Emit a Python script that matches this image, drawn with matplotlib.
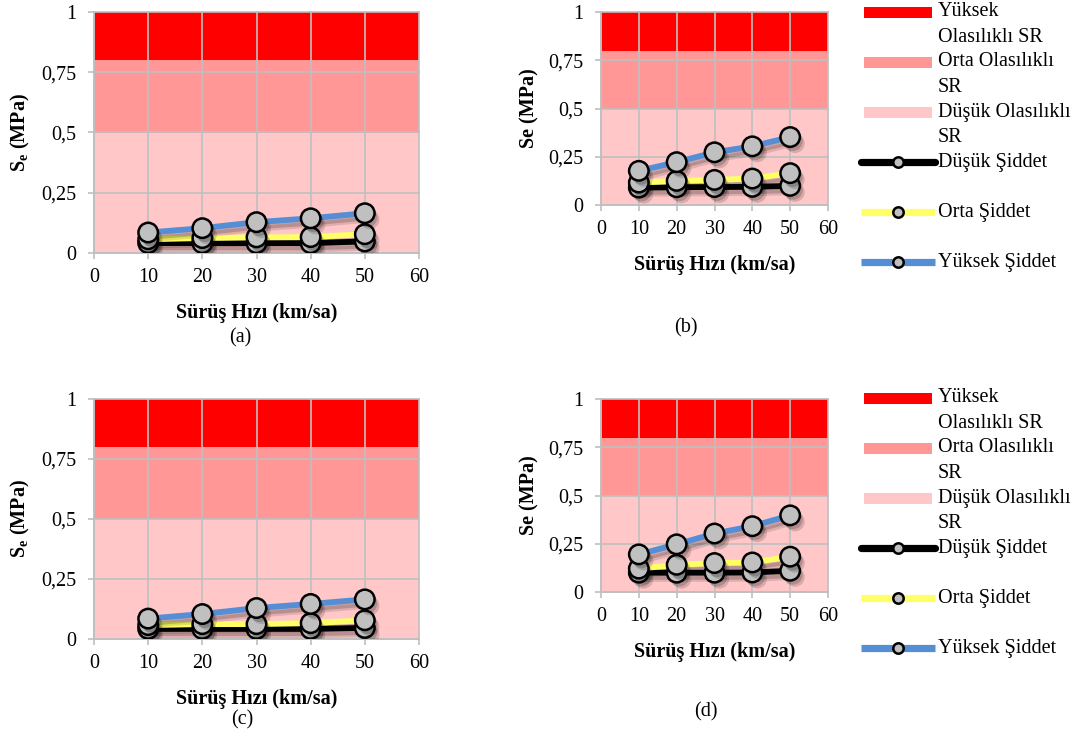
import matplotlib
matplotlib.use("Agg")
import matplotlib.pyplot as plt
from matplotlib import patheffects as pe
from matplotlib.lines import Line2D
from matplotlib.patches import Rectangle

plt.rcParams["font.family"] = "serif"
plt.rcParams["font.serif"] = ["Liberation Serif", "Times New Roman", "DejaVu Serif"]
plt.rcParams["mathtext.fontset"] = "custom"
plt.rcParams["mathtext.rm"] = "Liberation Serif"
plt.rcParams["mathtext.bf"] = "Liberation Serif:bold"

# ---------------------------------------------------------------------------
# Data
# ---------------------------------------------------------------------------

speed = [10, 20, 30, 40, 50]

a_low = [0.041, 0.041, 0.041, 0.041, 0.048]
a_mid = [0.057, 0.062, 0.065, 0.066, 0.078]
a_high = [0.085, 0.103, 0.128, 0.144, 0.165]

b_low = [0.090, 0.092, 0.093, 0.094, 0.099]
b_mid = [0.116, 0.125, 0.130, 0.137, 0.165]
b_high = [0.177, 0.222, 0.273, 0.304, 0.352]

c_low = [0.042, 0.042, 0.042, 0.042, 0.046]
c_mid = [0.058, 0.062, 0.062, 0.066, 0.078]
c_high = [0.085, 0.104, 0.129, 0.146, 0.165]

d_low = [0.100, 0.100, 0.100, 0.101, 0.110]
d_mid = [0.121, 0.141, 0.150, 0.153, 0.183]
d_high = [0.195, 0.247, 0.303, 0.341, 0.397]

# risk bands (stacked areas): lower, upper edges
band_lower = [0.0, 0.5, 0.8]
band_upper = [0.5, 0.8, 1.0]
band_names = ["Düşük Olasılıklı\nSR", "Orta Olasılıklı\nSR", "Yüksek\nOlasılıklı SR"]
band_colors = ["#FFC7C7", "#FF9797", "#FF0000"]

series_names = ["Düşük Şiddet", "Orta Şiddet", "Yüksek Şiddet"]
series_colors = ["#000000", "#FFFF66", "#558ED5"]

x_ticks = [0, 10, 20, 30, 40, 50, 60]
y_ticks = [0, 0.25, 0.5, 0.75, 1]
y_tick_labels = ["0", "0,25", "0,5", "0,75", "1"]

W, H = 1086, 740
FS = 14.5
GRID = "#BFBFBF"

fig = plt.figure(figsize=(W / 100, H / 100), dpi=100)


def px_axes(l, t, r, b):
    return fig.add_axes([l / W, 1 - b / H, (r - l) / W, (b - t) / H])


shadow_pts = [pe.SimplePatchShadow(offset=(2, -3), shadow_rgbFace="k", alpha=0.18),
              pe.SimplePatchShadow(offset=(3.5, -4.5), shadow_rgbFace="k", alpha=0.15),
              pe.Normal()]
shadow_line = [pe.SimpleLineShadow(offset=(2, -3), shadow_color="k", alpha=0.18),
               pe.SimpleLineShadow(offset=(3.5, -4.5), shadow_color="k", alpha=0.12),
               pe.Normal()]


def draw_panel(ax, low, mid, high, ylabel):
    for lo, hi, col in zip(band_lower, band_upper, band_colors):
        ax.fill_between([0, 60], [lo, lo], [hi, hi], color=col, lw=0, zorder=1)

    for vals, col in zip([low, mid, high], series_colors):
        ax.plot(speed, vals, color=col, lw=4.2, solid_capstyle="butt",
                zorder=3, path_effects=shadow_line)
        ax.plot(speed, vals, ls="none", marker="o", ms=14, mfc="#C0C0C0",
                mec="black", mew=1.8, zorder=4, path_effects=shadow_pts)

    ax.set_xlim(0, 60)
    ax.set_ylim(0, 1)
    ax.set_xticks(x_ticks)
    ax.set_yticks(y_ticks)
    ax.set_yticklabels(y_tick_labels)
    ax.grid(True, color=GRID, lw=1.2)
    for gl in ax.get_xgridlines() + ax.get_ygridlines():
        gl.set_clip_on(False)
        gl.set_zorder(2)
    for side in ("top", "right"):
        ax.spines[side].set_visible(False)
    for side in ("left", "bottom"):
        ax.spines[side].set_color(GRID)
        ax.spines[side].set_linewidth(1.2)
    ax.tick_params(axis="both", colors=GRID, length=4, width=1.2,
                   labelsize=FS, labelcolor="black")
    ax.tick_params(axis="y", pad=9)
    ax.tick_params(axis="x", pad=7)
    ax.set_xlabel("Sürüş Hızı (km/sa)", fontsize=FS, fontweight="bold", labelpad=11)
    ax.set_ylabel(ylabel, fontsize=FS, fontweight="bold", labelpad=6)


def draw_legend(top):
    # legend laid out in pixel coordinates to the right of the panel
    lax = px_axes(850, top - 12, 1086, top + 270)
    lax.set_xlim(850, 1086)
    lax.set_ylim(top + 270, top - 12)
    lax.axis("off")
    row = 0
    for name, col in zip(band_names[::-1], band_colors[::-1]):
        y = top + row * 50
        lax.add_patch(Rectangle((864, y - 5.5), 68, 11, color=col, lw=0))
        first, second = name.split("\n")
        lax.text(938, y, first, fontsize=FS, va="center", ha="left")
        lax.text(938, y + 25, second, fontsize=FS, va="center", ha="left")
        row += 1
    for name, col in zip(series_names, series_colors):
        y = top + row * 50
        lax.add_line(Line2D([861, 935], [y, y], color=col, lw=5.2,
                            solid_capstyle="round" if col == "#000000" else "butt"))
        lax.add_line(Line2D([898], [y], ls="none", marker="o", ms=7.5,
                            mfc="#C0C0C0", mec="black", mew=1.8))
        lax.text(938, y, name, fontsize=FS, va="center", ha="left")
        row += 1


ax_a = px_axes(94, 12, 419, 253)
draw_panel(ax_a, a_low, a_mid, a_high, r"$\mathbf{S_e}$ (MPa)")
ax_b = px_axes(601, 12, 828, 205)
draw_panel(ax_b, b_low, b_mid, b_high, "Se (MPa)")
ax_c = px_axes(94, 399, 419, 639)
draw_panel(ax_c, c_low, c_mid, c_high, r"$\mathbf{S_e}$ (MPa)")
ax_d = px_axes(601, 399, 828, 592)
draw_panel(ax_d, d_low, d_mid, d_high, "Se (MPa)")

draw_legend(12)
draw_legend(398)

for label, x, y in [("(a)", 240, 338), ("(b)", 686, 328), ("(c)", 242, 720), ("(d)", 706, 712)]:
    fig.text(x / W, 1 - y / H, label, fontsize=FS, ha="center", va="center")

fig.savefig("out.png", dpi=100)
